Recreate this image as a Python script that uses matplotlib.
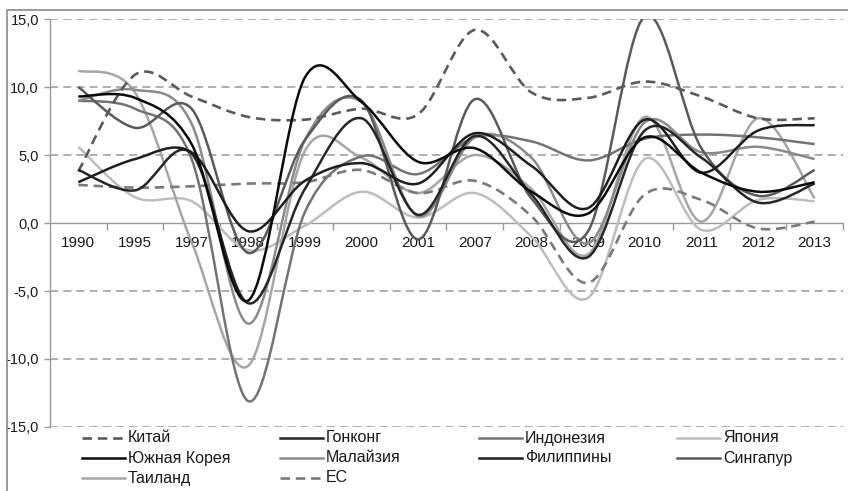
import matplotlib
matplotlib.use('Agg')
import matplotlib.pyplot as plt
from matplotlib.path import Path
from matplotlib.patches import PathPatch, Rectangle
from matplotlib.lines import Line2D

plt.rcParams['font.family'] = ['Liberation Sans', 'DejaVu Sans']

years = ['1990', '1995', '1997', '1998', '1999', '2000', '2001',
         '2007', '2008', '2009', '2010', '2011', '2012', '2013']

china = [3.8, 10.9, 9.3, 7.8, 7.6, 8.4, 8.0, 14.2, 9.6, 9.2, 10.4, 9.3, 7.7, 7.7]
hong_kong = [3.9, 2.4, 5.1, -5.9, 2.5, 7.7, 0.6, 6.4, 2.1, -2.5, 6.8, 4.8, 1.5, 2.9]
indonesia = [9.0, 8.4, 4.7, -13.1, 0.8, 4.9, 3.6, 6.3, 6.0, 4.6, 6.2, 6.5, 6.3, 5.8]
japan = [5.6, 1.9, 1.6, -2.0, -0.2, 2.3, 0.4, 2.2, -1.0, -5.5, 4.7, -0.5, 1.7, 1.6]
south_korea = [9.3, 9.2, 5.8, -5.7, 10.7, 8.9, 4.5, 5.5, 2.3, 0.7, 6.3, 3.7, 2.3, 3.0]
malaysia = [9.0, 9.8, 7.3, -7.4, 6.1, 8.9, 0.5, 6.3, 4.8, -1.5, 7.4, 5.2, 5.6, 4.7]
philippines = [3.0, 4.7, 5.2, -0.6, 3.1, 4.4, 2.9, 6.6, 4.2, 1.1, 7.6, 3.7, 6.8, 7.2]
singapore = [10.0, 7.0, 8.4, -2.2, 6.1, 9.0, -1.2, 9.1, 1.8, -0.6, 15.2, 5.5, 2.0, 3.9]
thailand = [11.2, 9.6, -1.4, -10.5, 5.3, 4.8, 2.2, 5.0, 2.5, -2.3, 7.8, 0.1, 7.7, 1.8]
eu = [2.8, 2.6, 2.7, 2.9, 3.0, 3.9, 2.2, 3.1, 0.5, -4.4, 2.1, 1.7, -0.4, 0.1]

labels = ['Китай', 'Гонконг', 'Индонезия', 'Япония', 'Южная Корея',
          'Малайзия', 'Филиппины', 'Сингапур', 'Таиланд', 'ЕС']
series = [china, hong_kong, indonesia, japan, south_korea,
          malaysia, philippines, singapore, thailand, eu]
colors = ['#5a5a5a', '#262626', '#737373', '#bdbdbd', '#0a0a0a',
          '#8a8a8a', '#1e1e1e', '#5a5a5a', '#a6a6a6', '#7a7a7a']
dashed = [True, False, False, False, False, False, False, False, False, True]
zorders = [3.2, 3.5, 3.1, 3.0, 3.6, 3.15, 3.55, 3.3, 3.05, 3.25]

yticks = [15, 10, 5, 0, -5, -10, -15]
ytick_labels = ['15,0', '10,0', '5,0', '0,0', '-5,0', '-10,0', '-15,0']

W, H = 848, 491
fig = plt.figure(figsize=(W / 100, H / 100), dpi=100)
ax = fig.add_axes([50 / W, 1 - 427 / H, (843 - 50) / W, (427 - 19) / H])

n = len(years)
xs = list(range(n))
ax.set_xlim(-0.5, n - 0.5)
ax.set_ylim(-15, 15)


def smooth_path(x, y):
    verts = [(x[0], y[0])]
    codes = [Path.MOVETO]
    m = len(x)
    for i in range(m - 1):
        i0 = max(i - 1, 0)
        i3 = min(i + 2, m - 1)
        c1 = (x[i] + (x[i + 1] - x[i0]) / 6, y[i] + (y[i + 1] - y[i0]) / 6)
        c2 = (x[i + 1] - (x[i3] - x[i]) / 6, y[i + 1] - (y[i3] - y[i]) / 6)
        verts += [c1, c2, (x[i + 1], y[i + 1])]
        codes += [Path.CURVE4] * 3
    return Path(verts, codes)


dash_pat = (0, (3.6, 2.2))
for vals, col, dsh, z in zip(series, colors, dashed, zorders):
    p = PathPatch(smooth_path(xs, vals), fill=False, edgecolor=col,
                  lw=1.8 if not dsh else 1.9,
                  linestyle=dash_pat if dsh else '-', zorder=z,
                  capstyle='butt', joinstyle='round')
    ax.add_patch(p)

# grid
for yv in yticks:
    if yv != 0:
        ax.axhline(yv, color='#a8a8a8', lw=1.3, linestyle=(0, (4.5, 2.8)), zorder=1)

for s in ['top', 'right']:
    ax.spines[s].set_visible(False)
ax.spines['left'].set_color('#9a9a9a')
ax.spines['left'].set_linewidth(1.0)
ax.spines['bottom'].set_position(('data', 0))
ax.spines['bottom'].set_color('#9a9a9a')
ax.spines['bottom'].set_linewidth(1.0)
ax.spines['bottom'].set_zorder(1.5)

ax.set_yticks(yticks)
ax.set_yticklabels(ytick_labels)
ax.tick_params(axis='y', length=4, width=1, color='#9a9a9a', pad=4,
               labelsize=10.5, labelcolor='#1a1a1a')
ax.set_xticks(xs)
ax.set_xticklabels(years)
ax.set_xticks([i + 0.5 for i in range(n)], minor=True)
ax.tick_params(axis='x', which='major', length=0, pad=9, labelsize=11,
               labelcolor='#1a1a1a')
ax.tick_params(axis='x', which='minor', length=5, width=1, color='#9a9a9a',
               direction='out')

# outer frame
fig.patches.append(Rectangle((7 / W, -0.05), 1.1, 1 - 10 / H + 0.05,
                             transform=fig.transFigure, fill=False,
                             edgecolor='#8a8a8a', lw=1.2, zorder=0))

# legend (row-major, 4 columns)
col_x = [82, 280, 479, 677]
row_y = [438, 458, 478]
for k, (lab, col, dsh) in enumerate(zip(labels, colors, dashed)):
    r, c = divmod(k, 4)
    x0, y0 = col_x[c], row_y[r]
    fig.add_artist(Line2D([x0 / W, (x0 + 43) / W], [1 - y0 / H, 1 - y0 / H],
                          transform=fig.transFigure, color=col,
                          lw=1.8 if not dsh else 1.9,
                          linestyle=dash_pat if dsh else '-'))
    fig.text((x0 + 46) / W, 1 - y0 / H, lab, fontsize=11.5, color='#1a1a1a',
             va='center', ha='left')

fig.savefig('out.png', dpi=100)
